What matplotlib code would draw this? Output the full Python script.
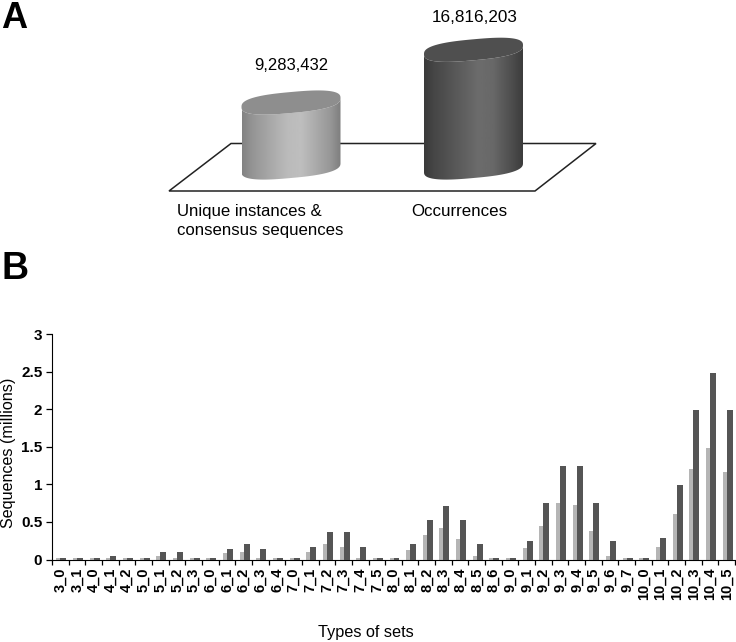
import matplotlib
matplotlib.use("Agg")
import matplotlib.pyplot as plt
import numpy as np
from matplotlib.patches import PathPatch, Polygon
from matplotlib.path import Path

plt.rcParams["font.family"] = ["Liberation Sans", "DejaVu Sans"]

# Panel A
totals = [9283432, 16816203]
total_labels = ["9,283,432", "16,816,203"]
total_names = ["Unique instances &\nconsensus sequences", "Occurrences"]

# Panel B
set_types = ["3_0", "3_1", "4_0", "4_1", "4_2", "5_0", "5_1", "5_2", "5_3", "6_0", "6_1",
             "6_2", "6_3", "6_4", "7_0", "7_1", "7_2", "7_3", "7_4", "7_5", "8_0", "8_1",
             "8_2", "8_3", "8_4", "8_5", "8_6", "9_0", "9_1", "9_2", "9_3", "9_4", "9_5",
             "9_6", "9_7", "10_0", "10_1", "10_2", "10_3", "10_4", "10_5"]
unique_seqs = [0.02, 0.02, 0.02, 0.02, 0.02, 0.02, 0.04, 0.02, 0.02, 0.02, 0.08,
               0.10, 0.02, 0.02, 0.02, 0.10, 0.21, 0.17, 0.02, 0.02, 0.02, 0.12,
               0.32, 0.42, 0.27, 0.04, 0.02, 0.02, 0.15, 0.45, 0.75, 0.72, 0.38,
               0.04, 0.02, 0.02, 0.17, 0.60, 1.20, 1.48, 1.17]
occurrences = [0.02, 0.02, 0.02, 0.05, 0.02, 0.02, 0.10, 0.10, 0.02, 0.02, 0.14,
               0.21, 0.14, 0.02, 0.02, 0.17, 0.36, 0.36, 0.17, 0.02, 0.02, 0.21,
               0.53, 0.71, 0.53, 0.21, 0.02, 0.02, 0.25, 0.75, 1.25, 1.25, 0.75,
               0.25, 0.02, 0.02, 0.28, 0.99, 1.99, 2.48, 1.99]

W, H = 736, 642
LIGHT = "#b5b5b5"
DARK = "#555555"


def ellipse(cx, cy, a, b, slope, t):
    # rounder than a true ellipse, the cap in the original is a bit boxy
    c = np.sign(np.cos(t)) * np.abs(np.cos(t)) ** 0.75
    s = np.sign(np.sin(t)) * np.abs(np.sin(t)) ** 0.75
    return np.c_[cx + a * c, cy - slope * a * c + b * s]


def draw_cylinder(ax, cx, base_y, value, stops, top_color):
    # pixel y points down, height comes from the value
    a, b, slope = 49.5, 10.5, 0.09
    top_y = base_y - value * 7e-6
    t_front = np.linspace(0, np.pi, 80)
    lower_base = ellipse(cx, base_y, a, b, slope, t_front)
    upper_front = ellipse(cx, top_y, a, b, slope, t_front[::-1])
    body = Path(np.r_[lower_base, upper_front, lower_base[:1]], closed=True)
    grad = np.interp(np.linspace(0, 1, 200), stops[0], stops[1])[None, :]
    im = ax.imshow(grad, cmap="gray", vmin=0, vmax=255, aspect="auto", zorder=3,
                   extent=(cx - a, cx + a, H, 0), interpolation="bilinear")
    im.set_clip_path(PathPatch(body, transform=ax.transData))
    cap = ellipse(cx, top_y, a, b, slope, np.linspace(0, 2 * np.pi, 160))
    ax.add_patch(Polygon(cap, closed=True, fc=top_color, ec="none", zorder=4))


fig = plt.figure(figsize=(W / 100, H / 100), dpi=100)

# whole-figure axes in pixel units for panel A and the letters
bg = fig.add_axes([0, 0, 1, 1])
bg.set_xlim(0, W)
bg.set_ylim(H, 0)
bg.axis("off")

bg.add_patch(Polygon([(169, 191), (231, 143.5), (596, 143.5), (535, 191)], closed=True,
                     fc="white", ec="#222222", lw=1.1, zorder=2))
draw_cylinder(bg, 291, 167.5, totals[0], ([0, 0.1, 0.45, 0.6, 0.9, 1], [130, 148, 186, 190, 150, 126]), "#8e8e8e")
draw_cylinder(bg, 473.5, 167.5, totals[1], ([0, 0.1, 0.55, 0.7, 0.9, 1], [58, 70, 108, 104, 76, 60]), "#4f4f4f")
bg.set_xlim(0, W)
bg.set_ylim(H, 0)

bg.text(291.5, 65, total_labels[0], ha="center", va="center", fontsize=12)
bg.text(475, 18, total_labels[1], ha="center", va="center", fontsize=12.3)
bg.text(177, 221, total_names[0], ha="left", va="center", fontsize=12.1, linespacing=1.32)
bg.text(411, 212, total_names[1], ha="left", va="center", fontsize=12.2)
bg.text(1, 18, "A", ha="left", va="center", fontsize=26, fontweight="bold")
bg.text(1, 269, "B", ha="left", va="center", fontsize=27, fontweight="bold")

# Panel B
ax = fig.add_axes([52 / W, 1 - 559.5 / H, 683 / W, 225.5 / H])
x = np.arange(len(set_types))
ax.bar(x - 0.06, unique_seqs, width=0.36, color=LIGHT, zorder=2)
ax.bar(x + 0.18, occurrences, width=0.36, color=DARK, zorder=3)

ax.set_xlim(-0.5, len(set_types) - 0.5)
ax.set_ylim(0, 3)
ax.set_yticks([0, 0.5, 1, 1.5, 2, 2.5, 3])
ax.set_yticklabels(["0", "0.5", "1", "1.5", "2", "2.5", "3"], fontsize=11, fontweight="bold")
ax.set_xticks(np.arange(len(set_types) + 1) - 0.5)
ax.set_xticklabels([])
ax.set_xticks(x, minor=True)
ax.set_xticklabels(set_types, minor=True, rotation=90, fontsize=10.5, fontweight="bold")
ax.tick_params(axis="x", which="major", length=3.5, width=0.9)
ax.tick_params(axis="x", which="minor", length=0, pad=6)
ax.tick_params(axis="y", length=4, width=0.9, pad=3)
ax.spines["top"].set_visible(False)
ax.spines["right"].set_visible(False)
ax.patch.set_alpha(0)

bg.text(9, 453, "Sequences (millions)", rotation=90, ha="center", va="center", fontsize=11.6)
bg.text(365.5, 632, "Types of sets", ha="center", va="center", fontsize=11.7)

fig.savefig("out.png", dpi=100)
plt.close(fig)
